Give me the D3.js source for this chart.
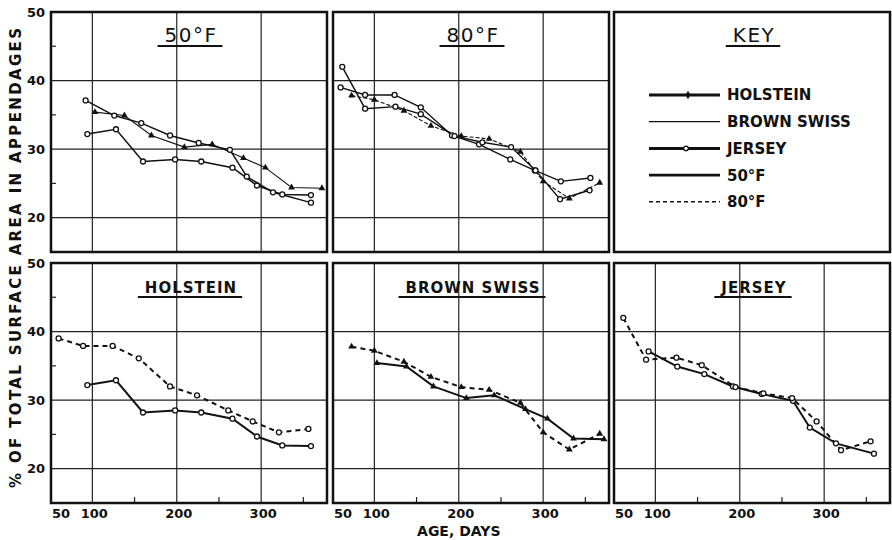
<!DOCTYPE html>
<html>
<head>
<meta charset="utf-8">
<script src="https://cdn.jsdelivr.net/npm/d3@7"></script>
<style>
body { margin: 0; background: #fff; }
text { font-family: "DejaVu Sans", sans-serif; fill: #111; }
</style>
</head>
<body>
<svg id="chart" width="892" height="540"></svg>
<script>
// [age in days, % of surface area in appendages]
var holstein50 = [[94,32.2],[128,32.9],[160,28.2],[198,28.5],[229,28.2],[266,27.3],[295,24.7],[325,23.4],[359,23.3]];
var holstein80 = [[60,39.0],[89,37.9],[124,37.9],[155,36.1],[192,32.0],[224,30.7],[261,28.5],[290,26.9],[321,25.3],[356,25.8]];
var brownSwiss50 = [[103,35.4],[138,34.9],[170,32.0],[209,30.3],[242,30.7],[279,28.7],[305,27.3],[336,24.4],[372,24.3]];
var brownSwiss80 = [[73,37.8],[100,37.2],[135,35.6],[167,33.4],[203,31.9],[236,31.5],[273,29.6],[300,25.3],[331,22.8],[367,25.1]];
var jersey50 = [[92,37.1],[126,34.9],[158,33.8],[192,32.0],[226,30.9],[263,29.9],[283,26.0],[314,23.7],[359,22.2]];
var jersey80 = [[62,42.0],[89,35.9],[125,36.2],[155,35.1],[195,31.9],[228,31.0],[262,30.3],[291,26.9],[320,22.7],[355,24.0]];

var xTicks = [50, 100, 200, 300];
var xMinor = [150, 250, 350];
var yTicks = [20, 30, 40, 50];
var yMinor = [25, 35, 45];
var gridX = [100, 200, 300];
var gridY = [20, 30, 40];
var keyLabels = ["HOLSTEIN", "BROWN SWISS", "JERSEY", "50°F", "80°F"];

var svg = d3.select("#chart");
var panelW = 276, panelH = 240;
var colLeft = [51, 333, 614], rowTop = [12, 263];

var x = d3.scaleLinear().domain([51, 378]).range([0, panelW]);
var y = d3.scaleLinear().domain([15, 50]).range([panelH, 0]);
var line = d3.line().x(d => x(d[0])).y(d => y(d[1]));

function drawMarkers(g, data, kind) {
    if (!kind) return;
    if (kind == "triangle") {
	g.selectAll(null).data(data).enter().append("path")
	    .attr("d", d3.symbol().type(d3.symbolTriangle).size(20))
	    .attr("transform", d => "translate(" + x(d[0]) + "," + y(d[1]) + ")")
	    .attr("fill", "#111");
    } else {
	g.selectAll(null).data(data).enter().append("circle")
	    .attr("cx", d => x(d[0]))
	    .attr("cy", d => y(d[1]))
	    .attr("r", 2.5)
	    .attr("fill", "#fff")
	    .attr("stroke", "#111")
	    .attr("stroke-width", 1.3);
    }
}

function addTitle(g, title, big) {
    var t = g.append("text")
	.attr("x", panelW / 2 + 2)
	.attr("y", 30)
	.attr("text-anchor", "middle")
	.style("font-size", big ? "20px" : "15px")
	.style("font-weight", big ? "normal" : "bold")
	.style("letter-spacing", big ? "1.5px" : "1px")
	.text(title);
    var w = t.node().getComputedTextLength();
    g.append("line")
	.attr("x1", panelW / 2 - w / 2 - 5).attr("x2", panelW / 2 + w / 2 + 7)
	.attr("y1", 34).attr("y2", 34)
	.attr("stroke", "#111").attr("stroke-width", 2);
}

function panel(col, row, title, series, big) {
    var g = svg.append("g")
	.attr("transform", "translate(" + colLeft[col] + "," + rowTop[row] + ")");

    g.selectAll(".gx").data(gridX).enter().append("line")
	.attr("x1", d => x(d)).attr("x2", d => x(d))
	.attr("y1", 0).attr("y2", panelH)
	.attr("stroke", "#222").attr("stroke-width", 1.2);
    g.selectAll(".gy").data(gridY).enter().append("line")
	.attr("x1", 0).attr("x2", panelW)
	.attr("y1", d => y(d)).attr("y2", d => y(d))
	.attr("stroke", "#222").attr("stroke-width", 1.2);

    if (col == 0) {
	g.selectAll(".my").data(yMinor).enter().append("line")
	    .attr("x1", 0).attr("x2", 5)
	    .attr("y1", d => y(d)).attr("y2", d => y(d))
	    .attr("stroke", "#222").attr("stroke-width", 1.2);
    }
    if (row == 1) {
	g.selectAll(".mx").data(xMinor).enter().append("line")
	    .attr("x1", d => x(d)).attr("x2", d => x(d))
	    .attr("y1", panelH).attr("y2", panelH - 6)
	    .attr("stroke", "#222").attr("stroke-width", 1.2);
    }

    series.forEach(s => {
	g.append("path").datum(s.data)
	    .attr("d", line)
	    .attr("fill", "none")
	    .attr("stroke", "#111")
	    .attr("stroke-width", s.width)
	    .attr("stroke-dasharray", s.dash || null);
    });
    series.forEach(s => drawMarkers(g, s.data, s.marker));

    g.append("rect")
	.attr("width", panelW).attr("height", panelH)
	.attr("fill", "none").attr("stroke", "#111").attr("stroke-width", 2.5);

    addTitle(g, title, big);
    return g;
}

var dash = "5,4";

panel(0, 0, "50°F", [
    {data: holstein50, width: 1.5, marker: "circle"},
    {data: brownSwiss50, width: 1.1, marker: "triangle"},
    {data: jersey50, width: 1.5, marker: "circle"}
], true);
panel(1, 0, "80°F", [
    {data: holstein80, width: 1.4, marker: "circle"},
    {data: brownSwiss80, width: 1.1, marker: "triangle", dash: "4,2"},
    {data: jersey80, width: 1.4, marker: "circle"}
], true);
panel(0, 1, "HOLSTEIN", [
    {data: holstein50, width: 2},
    {data: holstein80, width: 2, dash: dash}
].map(s => Object.assign(s, {marker: "circle"})));
panel(1, 1, "BROWN SWISS", [
    {data: brownSwiss50, width: 2},
    {data: brownSwiss80, width: 2, dash: dash}
].map(s => Object.assign(s, {marker: "triangle"})));
panel(2, 1, "JERSEY", [
    {data: jersey50, width: 2},
    {data: jersey80, width: 2, dash: dash}
].map(s => Object.assign(s, {marker: "circle"})));

// key panel
var key = svg.append("g")
    .attr("transform", "translate(" + colLeft[2] + "," + rowTop[0] + ")");
key.append("rect")
    .attr("width", panelW).attr("height", panelH)
    .attr("fill", "none").attr("stroke", "#111").attr("stroke-width", 2.5);
addTitle(key, "KEY", true);

var keyStyle = [
    {width: 3.2, marker: "diamond"},
    {width: 1.2},
    {width: 3, marker: "circle"},
    {width: 2.6},
    {width: 1.6, dash: "4,3"}
];
var rows = key.selectAll(".k").data(keyLabels).enter().append("g")
    .attr("transform", (d, i) => "translate(0," + (83 + i * 26.7) + ")");
rows.append("line")
    .attr("x1", 35).attr("x2", 106)
    .attr("stroke", "#111")
    .attr("stroke-width", (d, i) => keyStyle[i].width)
    .attr("stroke-dasharray", (d, i) => keyStyle[i].dash || null);
rows.filter((d, i) => keyStyle[i].marker == "diamond").append("path")
    .attr("d", d3.symbol().type(d3.symbolDiamond).size(22))
    .attr("transform", "translate(74,0)")
    .attr("fill", "#111");
rows.filter((d, i) => keyStyle[i].marker == "circle").append("circle")
    .attr("cx", 72).attr("r", 2.3)
    .attr("fill", "#fff").attr("stroke", "#111").attr("stroke-width", 1.2);
rows.append("text")
    .attr("x", 113).attr("dy", "0.36em")
    .style("font-size", "15px").style("font-weight", "bold")
    .text(d => d);

// y tick labels
rowTop.forEach(t => {
    svg.selectAll(null).data(yTicks).enter().append("text")
	.attr("x", 45).attr("y", d => t + y(d)).attr("dy", "0.36em")
	.attr("text-anchor", "end")
	.style("font-size", "13px").style("font-weight", "bold")
	.text(d => d);
});

// x tick labels
colLeft.forEach(l => {
    svg.selectAll(null).data(xTicks).enter().append("text")
	.attr("x", d => d == 50 ? l + 1 : l + x(d) + 2)
	.attr("y", rowTop[1] + panelH + 15)
	.attr("text-anchor", d => d == 50 ? "start" : "middle")
	.style("font-size", "13px").style("font-weight", "bold")
	.text(d => d);
});

svg.append("text")
    .attr("x", colLeft[1] + x(200)).attr("y", 536)
    .attr("text-anchor", "middle")
    .style("font-size", "14px").style("font-weight", "bold")
    .text("AGE, DAYS");

svg.append("text")
    .attr("transform", "translate(21,258) rotate(-90)")
    .attr("text-anchor", "middle")
    .attr("textLength", 460).attr("lengthAdjust", "spacing")
    .style("font-size", "15px").style("font-weight", "bold")
    .text("% OF TOTAL SURFACE AREA IN APPENDAGES");
</script>
</body>
</html>
